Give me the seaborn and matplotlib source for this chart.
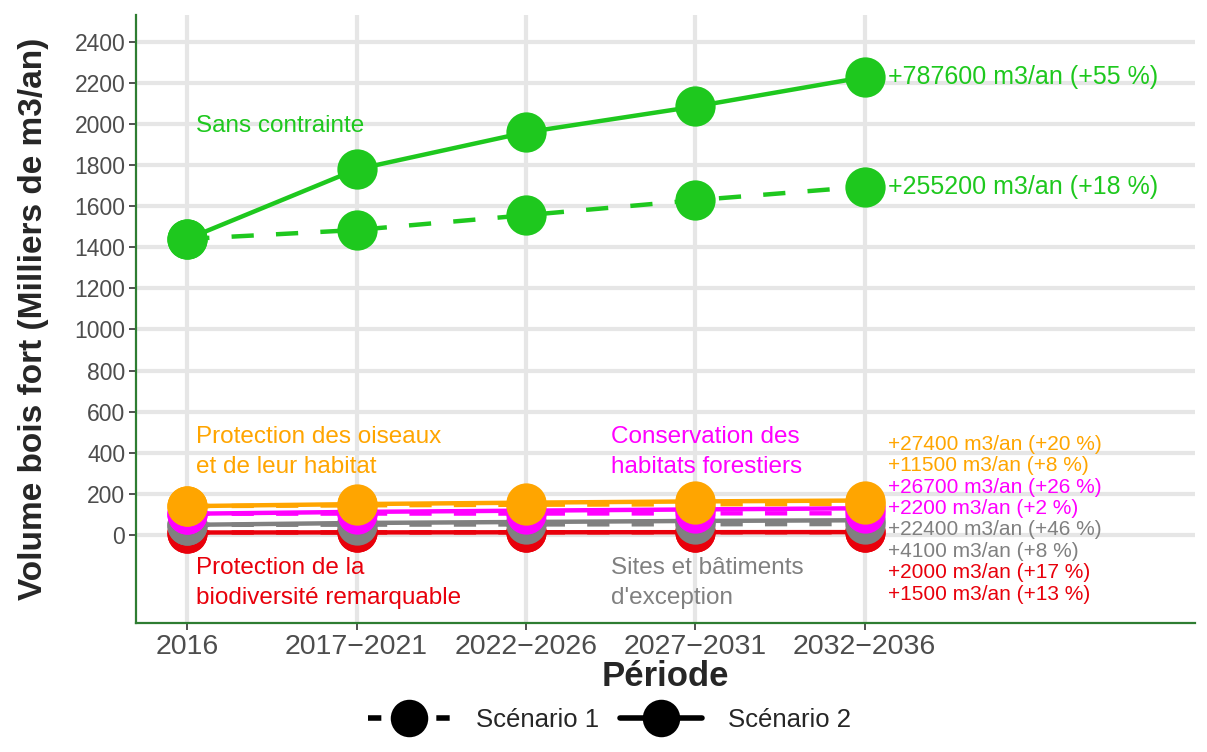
import numpy as np
import pandas as pd
import matplotlib
matplotlib.use('Agg')
import matplotlib.pyplot as plt
from matplotlib.lines import Line2D
import seaborn as sns

# data (milliers de m3/an)
periodes = ['2016', '2017\u22122021', '2022\u22122026', '2027\u22122031', '2032\u22122036']
groupes = ['Sans contrainte', 'Protection des oiseaux', 'Conservation des habitats',
           'Sites et bâtiments', 'Protection biodiversité']

sans_s1 = [1440, 1484, 1556, 1629, 1695]
sans_s2 = [1440, 1779, 1959, 2085, 2228]
oiseaux_s1 = [140, 144, 147, 149, 151.5]
oiseaux_s2 = [140, 150, 157, 163, 167.4]
habitats_s1 = [103, 104, 104, 105, 105.2]
habitats_s2 = [103, 112, 118, 124, 129.7]
sites_s1 = [49, 50, 51, 52, 53.1]
sites_s2 = [49, 58, 63, 68, 71.4]
biodiv_s1 = [11.7, 12.0, 12.5, 12.9, 13.2]
biodiv_s2 = [11.7, 12.3, 12.8, 13.3, 13.7]

labels_fin = {
    'Sans contrainte': ['+787600 m3/an (+55 %)', '+255200 m3/an (+18 %)'],
    'Protection des oiseaux': ['+27400 m3/an (+20 %)', '+11500 m3/an (+8 %)'],
    'Conservation des habitats': ['+26700 m3/an (+26 %)', '+2200 m3/an (+2 %)'],
    'Sites et bâtiments': ['+22400 m3/an (+46 %)', '+4100 m3/an (+8 %)'],
    'Protection biodiversité': ['+2000 m3/an (+17 %)', '+1500 m3/an (+13 %)'],
}

couleurs = {
    'Sans contrainte': '#1ec81e',
    'Protection des oiseaux': '#ffa500',
    'Conservation des habitats': '#ff00ff',
    'Sites et bâtiments': '#808080',
    'Protection biodiversité': '#e8000b',
}

series = {
    'Sans contrainte': (sans_s1, sans_s2),
    'Protection des oiseaux': (oiseaux_s1, oiseaux_s2),
    'Conservation des habitats': (habitats_s1, habitats_s2),
    'Sites et bâtiments': (sites_s1, sites_s2),
    'Protection biodiversité': (biodiv_s1, biodiv_s2),
}

rows = []
for g, (s1, s2) in series.items():
    for i, p in enumerate(periodes):
        rows.append({'groupe': g, 'scenario': 'Scénario 1', 'x': i, 'volume': s1[i]})
        rows.append({'groupe': g, 'scenario': 'Scénario 2', 'x': i, 'volume': s2[i]})
df = pd.DataFrame(rows)

sns.set_theme(style='whitegrid')
plt.rcParams['font.family'] = ['Liberation Sans', 'DejaVu Sans']

fig = plt.figure(figsize=(12.07, 7.52), dpi=100)
ax = fig.add_axes([0.113, 0.172, 0.877, 0.808])

# small groups first, green on top
ordre = ['Protection biodiversité', 'Sites et bâtiments', 'Conservation des habitats',
         'Protection des oiseaux', 'Sans contrainte']
for g in ordre:
    sub = df[df.groupe == g]
    sns.lineplot(data=sub, x='x', y='volume', style='scenario',
                 dashes={'Scénario 1': (5, 5), 'Scénario 2': ''},
                 markers={'Scénario 1': 'o', 'Scénario 2': 'o'},
                 color=couleurs[g], linewidth=3.2, markersize=29,
                 markeredgewidth=0, legend=False, ax=ax, zorder=3)

ax.set_xlim(-0.3, 5.95)
ax.set_ylim(-427, 2530)
ax.set_xticks(range(len(periodes)))
ax.set_xticklabels(periodes)
ax.set_yticks(np.arange(0, 2401, 200))

ax.grid(True, color='#e6e6e6', linewidth=3)
ax.set_axisbelow(True)
for s in ['top', 'right']:
    ax.spines[s].set_visible(False)
for s in ['left', 'bottom']:
    ax.spines[s].set_visible(True)
    ax.spines[s].set_color('#2e7d32')
    ax.spines[s].set_linewidth(1.6)

ax.tick_params(axis='x', labelsize=20.5, colors='#4d4d4d', length=5, width=1.2,
               direction='out', bottom=True, pad=3)
ax.tick_params(axis='y', labelsize=16.5, colors='#4d4d4d', length=5, width=1.2,
               direction='out', left=True, pad=3)
ax.tick_params(axis='both', color='#333333')

ax.set_xlabel('Période', fontsize=25, fontweight='bold', labelpad=0)
ax.set_ylabel('Volume bois fort (Milliers de m3/an)', fontsize=24, fontweight='bold', labelpad=18)

# group names
txt = dict(fontsize=17.5, va='center', linespacing=1.45)
ax.text(0.05, 1990, 'Sans contrainte', color='#1ec81e', **txt)
ax.text(0.05, 405, 'Protection des oiseaux\net de leur habitat', color='#ffa500', **txt)
ax.text(2.5, 405, 'Conservation des\nhabitats forestiers', color='#ff00ff', **txt)
ax.text(0.05, -235, 'Protection de la\nbiodiversité remarquable', color='#e8000b', **txt)
ax.text(2.5, -235, "Sites et bâtiments\nd'exception", color='#808080', **txt)

# end labels
ax.text(4.14, sans_s2[-1], labels_fin['Sans contrainte'][0], color='#1ec81e',
        fontsize=18, va='center')
ax.text(4.14, sans_s1[-1], labels_fin['Sans contrainte'][1], color='#1ec81e',
        fontsize=18, va='center')
petits = ['Protection des oiseaux', 'Conservation des habitats', 'Sites et bâtiments',
          'Protection biodiversité']
y_lab = [440, 336, 232, 128, 24, -80, -184, -288]
k = 0
for g in petits:
    for t in labels_fin[g]:
        ax.text(4.14, y_lab[k], t, color=couleurs[g], fontsize=15, va='center')
        k += 1

# legend
h1 = Line2D([], [], color='black', linestyle=(0, (2.4, 9.9)), linewidth=4,
            marker='o', markersize=27, markeredgewidth=0)
h2 = Line2D([], [], color='black', linestyle='-', linewidth=4,
            marker='o', markersize=27, markeredgewidth=0)
fig.legend([h1, h2], ['Scénario 1', 'Scénario 2'], loc='center',
           bbox_to_anchor=(0.505, 0.043), ncol=2, frameon=False, fontsize=18.5,
           handlelength=3.2, columnspacing=0.8, handletextpad=1.0)

fig.savefig('out.png', dpi=100)
